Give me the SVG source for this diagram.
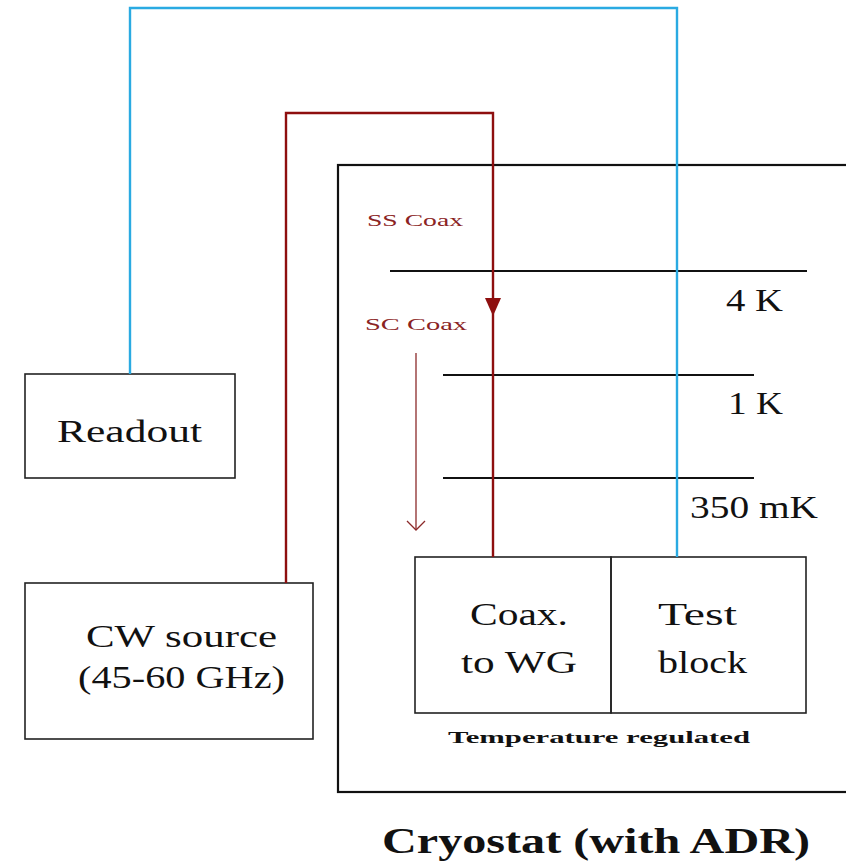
<svg xmlns="http://www.w3.org/2000/svg" width="846" height="864" viewBox="0 0 846 864">
<defs>
<style>
.box{fill:none;stroke:#222;stroke-width:1.6}
.stage{stroke:#111;stroke-width:2.2}
.lbl{font-family:"Liberation Serif","DejaVu Serif",serif;font-size:32px;fill:#111}
.small{font-family:"Liberation Serif","DejaVu Serif",serif;font-size:17px;fill:#8b2323}
.bold{font-family:"Liberation Serif","DejaVu Serif",serif;font-weight:bold;fill:#111}
.red{fill:none;stroke:#8e0f0f;stroke-width:2.4}
.blue{fill:none;stroke:#2aaae2;stroke-width:2.4}
</style>
<marker id="tri" viewBox="0 0 18 16" refX="18" refY="8" markerWidth="18" markerHeight="16" markerUnits="userSpaceOnUse" orient="auto">
<path d="M0,0 L18,8 L0,16 Z" fill="#8e0f0f"/>
</marker>
</defs>
<rect width="846" height="864" fill="#fff"/>

<g id="cryostat">
<rect x="338" y="165" width="530" height="627" fill="none" stroke="#111" stroke-width="2.2"/>
<text class="bold" x="382" y="853" font-size="36" textLength="428" lengthAdjust="spacingAndGlyphs">Cryostat (with ADR)</text>
</g>

<g id="stages">
<line class="stage" x1="390" y1="271" x2="807" y2="271"/>
<text class="lbl" x="726" y="311" textLength="57" lengthAdjust="spacingAndGlyphs">4 K</text>
<line class="stage" x1="443" y1="375" x2="754" y2="375"/>
<text class="lbl" x="728" y="414" textLength="55" lengthAdjust="spacingAndGlyphs">1 K</text>
<line class="stage" x1="443" y1="478" x2="754" y2="478"/>
<text class="lbl" x="690" y="518" textLength="128" lengthAdjust="spacingAndGlyphs">350 mK</text>
</g>

<g id="coax-labels">
<text class="small" x="367" y="226" textLength="96" lengthAdjust="spacingAndGlyphs">SS Coax</text>
<text class="small" x="365" y="330" textLength="102" lengthAdjust="spacingAndGlyphs">SC Coax</text>
<line x1="416" y1="353" x2="416" y2="529" stroke="#8b2a2a" stroke-width="1.3"/>
<path d="M407,521 L416,530 L425,521" fill="none" stroke="#8b2a2a" stroke-width="1.3"/>
</g>

<g id="readout">
<rect class="box" x="25" y="374" width="210" height="104"/>
<text class="lbl" x="57" y="442" textLength="145" lengthAdjust="spacingAndGlyphs">Readout</text>
</g>

<g id="cw-source">
<rect class="box" x="25" y="583" width="288" height="156"/>
<text class="lbl" x="86" y="647" textLength="191" lengthAdjust="spacingAndGlyphs">CW source</text>
<text class="lbl" x="78" y="688" textLength="207" lengthAdjust="spacingAndGlyphs">(45-60 GHz)</text>
</g>

<g id="coax-to-wg">
<rect class="box" x="415" y="557" width="196" height="156"/>
<text class="lbl" x="470" y="625" textLength="98" lengthAdjust="spacingAndGlyphs">Coax.</text>
<text class="lbl" x="461" y="673" textLength="116" lengthAdjust="spacingAndGlyphs">to WG</text>
</g>

<g id="test-block">
<rect class="box" x="611" y="557" width="195" height="156"/>
<text class="lbl" x="658" y="625" textLength="79" lengthAdjust="spacingAndGlyphs">Test</text>
<text class="lbl" x="658" y="673" textLength="89" lengthAdjust="spacingAndGlyphs">block</text>
</g>

<text class="bold" x="448" y="743" font-size="17" textLength="302" lengthAdjust="spacingAndGlyphs">Temperature regulated</text>

<g id="connectors">
<polyline class="blue" points="130,374 130,8 677,8 677,557"/>
<polyline class="red" points="286,583 286,113 493,113 493,557"/>
<line x1="493" y1="280" x2="493" y2="316" stroke="none" marker-end="url(#tri)"/>
</g>
</svg>
